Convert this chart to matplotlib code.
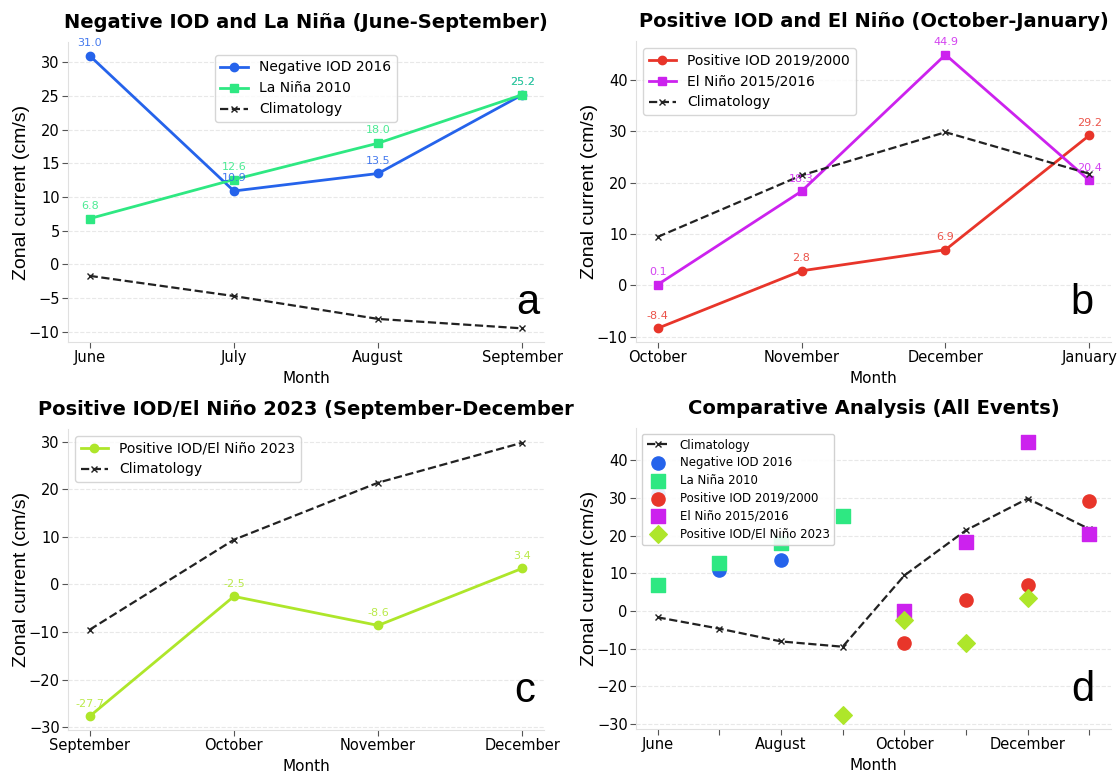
import matplotlib.pyplot as plt

# months per panel
months_a = ["June", "July", "August", "September"]
months_b = ["October", "November", "December", "January"]
months_c = ["September", "October", "November", "December"]
months_all = ["June", "July", "August", "September", "October", "November", "December", "January"]

# zonal current (cm/s)
neg_iod_2016 = [31.0, 10.9, 13.5, 25.2]
la_nina_2010 = [6.8, 12.6, 18.0, 25.2]
pos_iod_2019 = [-8.4, 2.8, 6.9, 29.2]
el_nino_2015 = [0.1, 18.3, 44.9, 20.4]
pos_iod_2023 = [-27.7, -2.5, -8.6, 3.4]
climatology = [-1.7, -4.7, -8.1, -9.5, 9.4, 21.4, 29.8, 21.7]

C_BLUE = "#2563eb"
C_GREEN = "#2ee882"
C_RED = "#e8352a"
C_MAG = "#cc22ee"
C_LIME = "#aee62a"

plt.rcParams["font.family"] = "DejaVu Sans"

fig = plt.figure(figsize=(11.19, 7.76), dpi=100)
W, H = 1119, 776


def make_ax(l, t, r, b):
    ax = fig.add_axes([l / W, 1 - b / H, (r - l) / W, (b - t) / H])
    ax.grid(axis="y", linestyle="--", color="#e8e8e8", linewidth=0.8)
    ax.grid(axis="x", visible=False)
    for s in ["top", "right"]:
        ax.spines[s].set_visible(False)
    for s in ["left", "bottom"]:
        ax.spines[s].set_color("#e0e0e0")
    ax.tick_params(labelsize=10.5, length=4, pad=2, color="#555555")
    ax.set_axisbelow(True)
    return ax


def style(ax, title, letter, lx, ly=0.13):
    ax.set_title(title, fontsize=14, fontweight="bold", pad=10)
    ax.set_xlabel("Month", fontsize=11, labelpad=4)
    ax.set_ylabel("Zonal current (cm/s)", fontsize=14, family="Liberation Sans", labelpad=-1)
    ax.text(lx, ly, letter, transform=ax.transAxes, fontsize=30,
            family="Liberation Sans", ha="center", va="center")


def annotate(ax, xs, ys, color):
    for x, y in zip(xs, ys):
        ax.annotate(f"{y:.1f}", (x, y), textcoords="offset points", xytext=(0, 7),
                    ha="center", fontsize=8, color=color, alpha=0.85)


x4 = list(range(4))

# panel a
ax = make_ax(68, 42, 544, 342)
ax.plot(x4, neg_iod_2016, "-o", color=C_BLUE, lw=2, ms=6, label="Negative IOD 2016")
ax.plot(x4, la_nina_2010, "-s", color=C_GREEN, lw=2, ms=6, label="La Niña 2010")
ax.plot(x4, climatology[:4], "--x", color="#222222", lw=1.6, ms=5, label="Climatology")
annotate(ax, x4, neg_iod_2016, C_BLUE)
annotate(ax, x4, la_nina_2010, C_GREEN)
ax.set_xticks(x4)
ax.set_xticklabels(months_a)
ax.legend(loc="upper center", fontsize=10, bbox_to_anchor=(0.5, 0.98))
style(ax, "Negative IOD and La Niña (June-September)", "a", 0.966)

# panel b
ax = make_ax(636, 41, 1111, 342)
ax.plot(x4, pos_iod_2019, "-o", color=C_RED, lw=2, ms=6, label="Positive IOD 2019/2000")
ax.plot(x4, el_nino_2015, "-s", color=C_MAG, lw=2, ms=6, label="El Niño 2015/2016")
ax.plot(x4, climatology[4:], "--x", color="#222222", lw=1.6, ms=5, label="Climatology")
annotate(ax, x4, pos_iod_2019, C_RED)
annotate(ax, x4, el_nino_2015, C_MAG)
ax.set_xticks(x4)
ax.set_xticklabels(months_b)
ax.legend(loc="upper left", fontsize=10)
style(ax, "Positive IOD and El Niño (October-January)", "b", 0.939)

# panel c
ax = make_ax(68, 429, 544, 730)
ax.plot(x4, pos_iod_2023, "-o", color=C_LIME, lw=2, ms=6, label="Positive IOD/El Niño 2023")
ax.plot(x4, climatology[3:7], "--x", color="#222222", lw=1.6, ms=5, label="Climatology")
annotate(ax, x4, pos_iod_2023, C_LIME)
ax.set_xticks(x4)
ax.set_xticklabels(months_c)
ax.legend(loc="upper left", fontsize=10)
style(ax, "Positive IOD/El Niño 2023 (September-December", "c", 0.96)

# panel d
ax = make_ax(636, 428, 1111, 729)
x8 = list(range(8))
ax.plot(x8, climatology, "--x", color="#222222", lw=1.6, ms=5, label="Climatology")
ax.scatter(x8[0:4], neg_iod_2016, marker="o", s=90, color=C_BLUE, label="Negative IOD 2016", zorder=3)
ax.scatter(x8[0:4], la_nina_2010, marker="s", s=90, color=C_GREEN, label="La Niña 2010", zorder=3)
ax.scatter(x8[4:8], pos_iod_2019, marker="o", s=90, color=C_RED, label="Positive IOD 2019/2000", zorder=3)
ax.scatter(x8[4:8], el_nino_2015, marker="s", s=90, color=C_MAG, label="El Niño 2015/2016", zorder=3)
ax.scatter(x8[3:7], pos_iod_2023, marker="D", s=80, color=C_LIME, label="Positive IOD/El Niño 2023", zorder=3)
ax.set_xticks(x8)
ax.set_xticklabels([m if i % 2 == 0 else "" for i, m in enumerate(months_all)])
leg = ax.legend(loc="upper left", fontsize=8.5, framealpha=0.9, labelspacing=0.4)
leg.set_zorder(5)
style(ax, "Comparative Analysis (All Events)", "d", 0.941)

fig.savefig("out.png", dpi=100)
